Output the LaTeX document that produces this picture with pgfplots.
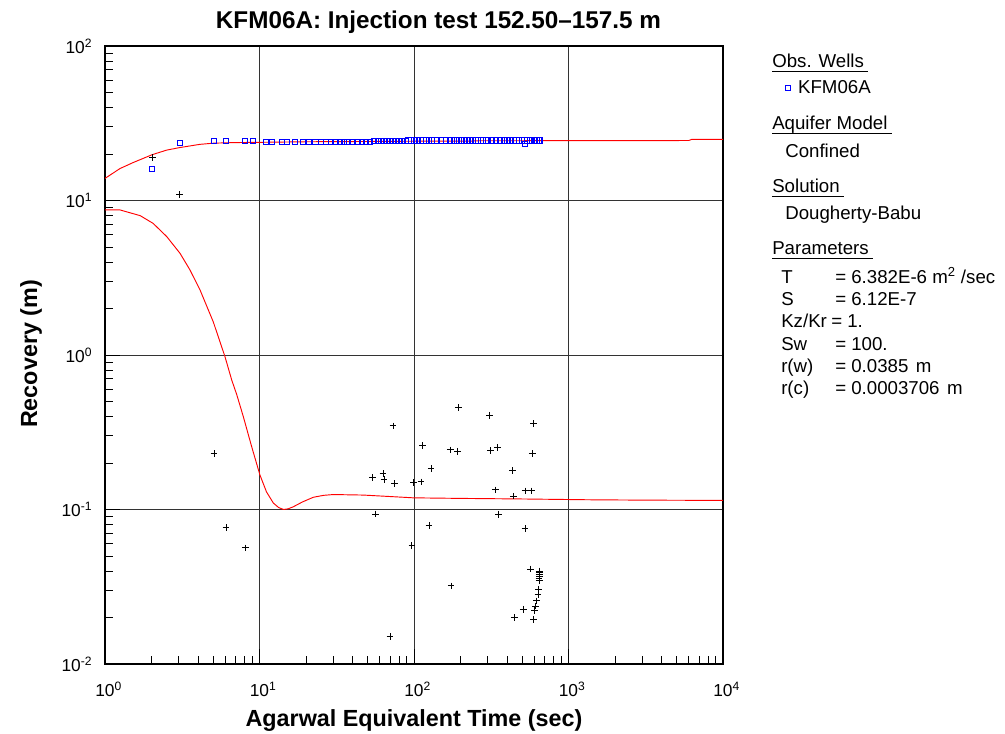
\documentclass[border=0pt]{standalone}
\usepackage{pgfplots}
\pgfplotsset{compat=1.18}
\usepackage{fontspec}
\setmainfont{Liberation Sans}
\pgfplotsset{mylegimg/.style={legend image code/.code={\draw[mark repeat=2,mark phase=2,##1] plot coordinates {(0pt,0pt) (2pt,0pt) (4pt,0pt)};}}}
\begin{document}
\begin{tikzpicture}
\begin{axis}[
  at={(0,0)}, anchor=south west,
  scale only axis, width=463.5pt, height=463.5pt,
  xmode=log, ymode=log,
  xmin=1, xmax=10000, ymin=0.01, ymax=100,
  xtick={1,10,100,1000,10000},
  xticklabels={10\rlap{\textsuperscript{0}},10\rlap{\textsuperscript{1}},10\rlap{\textsuperscript{2}},10\rlap{\textsuperscript{3}},10\rlap{\textsuperscript{4}}},
  ytick={0.01,0.1,1,10,100},
  yticklabels={10\textsuperscript{-2},10\textsuperscript{-1},10\textsuperscript{0},10\textsuperscript{1},10\textsuperscript{2}},
  xticklabel style={font=\fontsize{13}{15}\selectfont, yshift=-10pt},
  yticklabel style={font=\fontsize{13}{15}\selectfont, xshift=-6pt},
  grid=major,
  major grid style={black!80, line width=0.75pt},
  tick pos=left, tick align=inside,
  major tick length=11pt, minor tick length=6pt,
  every tick/.style={black, line width=0.7pt},
  axis line style={black, line width=1pt},
  legend style={at={(rel axis cs:1.1,0.932)}, anchor=west, draw=none, fill=none,
    inner sep=0pt, font=\fontsize{14}{16}\selectfont,
    /tikz/every odd column/.append style={column sep=4pt}},
  legend cell align=left,
  clip=true,
]
% upper type curve
\addplot[red, line width=0.7pt, forget plot] coordinates {
(1,13.9) (1.1,14.8) (1.25,16.1) (1.52,17.6) (2.02,19.8) (2.51,21.2) (3.04,22.0)
(4.12,23.1) (5.05,23.5) (6.77,23.7) (10,23.8) (20,24.0) (50,24.1) (100,24.2)
(236,24.2) (240,24.35) (1000,24.4) (2000,24.4) (6000,24.45) (6300,24.9) (10000,24.9)};
% lower derivative curve
\addplot[red, line width=0.7pt, forget plot] coordinates {
(1,8.7) (1.25,8.69) (1.69,7.98) (2.05,7.11) (2.51,5.84) (3.06,4.55) (3.55,3.55)
(4.12,2.64) (5.02,1.64) (5.98,0.975) (6.61,0.689) (7.12,0.555) (7.86,0.399)
(8.90,0.255) (10.07,0.167) (11.1,0.130) (12.3,0.110) (13.3,0.103) (14.3,0.100)
(15.3,0.101) (16.5,0.104) (19,0.112) (22.3,0.120) (26,0.1235) (30,0.125)
(47,0.124) (73.5,0.121) (99,0.119) (200,0.118) (500,0.117) (1377,0.1156)
(3000,0.115) (10000,0.1145)};
% derivative data
\addplot[only marks, mark=+, mark size=2.5pt, black, mark options={line width=0.7pt}, forget plot] coordinates {
(2.02,18.9) (3.04,10.9) (5.08,0.23) (6.07,0.0762) (8.09,0.0564) (54,0.161)
(56.5,0.0935) (63,0.171) (64,0.157) (70,0.015) (73.1,0.348) (75,0.147)
(97,0.0583) (99.5,0.149) (111,0.151) (114,0.259) (125,0.0785) (129,0.184)
(171.8,0.243) (174,0.032) (191.8,0.237) (193.6,0.458) (309,0.407) (312,0.240)
(336,0.134) (348,0.251) (353,0.0931) (433,0.178) (439,0.122) (446,0.020)
(510,0.0226) (523,0.132) (523,0.0751) (569,0.0412) (578,0.132) (583,0.230)
(595,0.359) (595,0.0195) (604,0.0223) (613,0.0237) (622,0.0256) (635,0.0281)
(641,0.0305) (647,0.0346) (647,0.0382) (647,0.040) (650,0.037) (645,0.036) (652,0.039)};
% observed recovery
\addplot[only marks, mark=square, mark size=1.9pt, blue, mark options={line width=0.6pt}, mylegimg] coordinates {
(2.02,16.1) (3.04,23.7) (5.05,24.2) (6.07,24.2) (8.0,24.2) (9.08,24.2)
(11,23.9) (12,24.0) (14,24.0) (15,24.0) (17,24.0) (19,24.0) (21,24.0) (23,24.0)
(25,24.0) (27,24.0) (29,24.0) (31,24.0) (33,24.0) (35,24.0) (37,24.0) (40,24.1)
(43,24.1) (46,24.1) (49,24.1) (52,24.1) (55,24.2) (58,24.2) (61,24.3) (64,24.3)
(67,24.3) (70,24.3) (73,24.4) (76,24.4) (80,24.4) (84,24.4) (88,24.4) (92,24.5)
(96,24.5) (100,24.5) (105,24.5) (110,24.5) (115,24.5) (120,24.5) (125,24.5)
(130,24.5) (140,24.5) (150,24.5) (160,24.5) (170,24.5) (180,24.5) (190,24.5)
(200,24.5) (210,24.5) (220,24.5) (230,24.5) (240,24.5) (250,24.5) (260,24.5)
(270,24.5) (280,24.5) (290,24.5) (300,24.5) (320,24.5) (340,24.5) (360,24.5)
(380,24.5) (400,24.5) (420,24.5) (440,24.5) (460,24.5) (480,24.5) (500,24.5)
(523,23.4) (540,24.5) (560,24.5) (580,24.5) (600,24.5) (620,24.5) (640,24.5) (650,24.5)};
\addlegendentry{KFM06A}
\end{axis}
\begin{scope}[shift={(-78.75pt,498pt)}, x=0.75pt, y=-0.75pt]
\node[anchor=base, font=\bfseries\fontsize{18.2}{21}\selectfont] at (438.5,29) {KFM06A: Injection test 152.50–157.5 m};
\node[anchor=base, font=\bfseries\fontsize{17.5}{20}\selectfont] at (414,727) {Agarwal Equivalent Time (sec)};
\node[anchor=center, rotate=90, font=\bfseries\fontsize{17.5}{20}\selectfont] at (31,354) {Recovery (m)};
\begin{scope}[every node/.style={anchor=base west, inner sep=0pt, font=\fontsize{14}{16}\selectfont}]
\node (h1) at (772,68) {Obs. Wells};
\draw[line width=0.6pt] ([yshift=-3*0.75pt]h1.base west) -- ([xshift=3pt,yshift=-3*0.75pt]h1.base east);
\node (h2) at (772,130) {Aquifer Model};
\draw[line width=0.6pt] ([yshift=-3*0.75pt]h2.base west) -- ([xshift=3pt,yshift=-3*0.75pt]h2.base east);
\node at (785,158) {Confined};
\node (h3) at (772,193) {Solution};
\draw[line width=0.6pt] ([yshift=-3*0.75pt]h3.base west) -- ([xshift=3pt,yshift=-3*0.75pt]h3.base east);
\node at (785,220) {Dougherty-Babu};
\node (h4) at (772,255) {Parameters};
\draw[line width=0.6pt] ([yshift=-3*0.75pt]h4.base west) -- ([xshift=3pt,yshift=-3*0.75pt]h4.base east);
\node at (781,283.4) {T};
\node at (835,283.4) {= 6.382E-6 m\textsuperscript{2} /sec};
\node at (781,305.7) {S};
\node at (835,305.7) {= 6.12E-7};
\node at (781,328) {Kz/Kr};
\node at (831,328) {= 1.};
\node at (781,350.3) {Sw};
\node at (835,350.3) {= 100.};
\node at (781,372.6) {r(w)};
\node at (835,372.6) {= 0.0385\hspace{0.4em}m};
\node at (781,394.9) {r(c)};
\node at (835,394.9) {= 0.0003706\hspace{0.4em}m};
\end{scope}
\end{scope}
\pgfresetboundingbox
\path[use as bounding box] (-78.75pt,-52.5pt) rectangle (675pt,498pt);
\end{tikzpicture}
\end{document}
